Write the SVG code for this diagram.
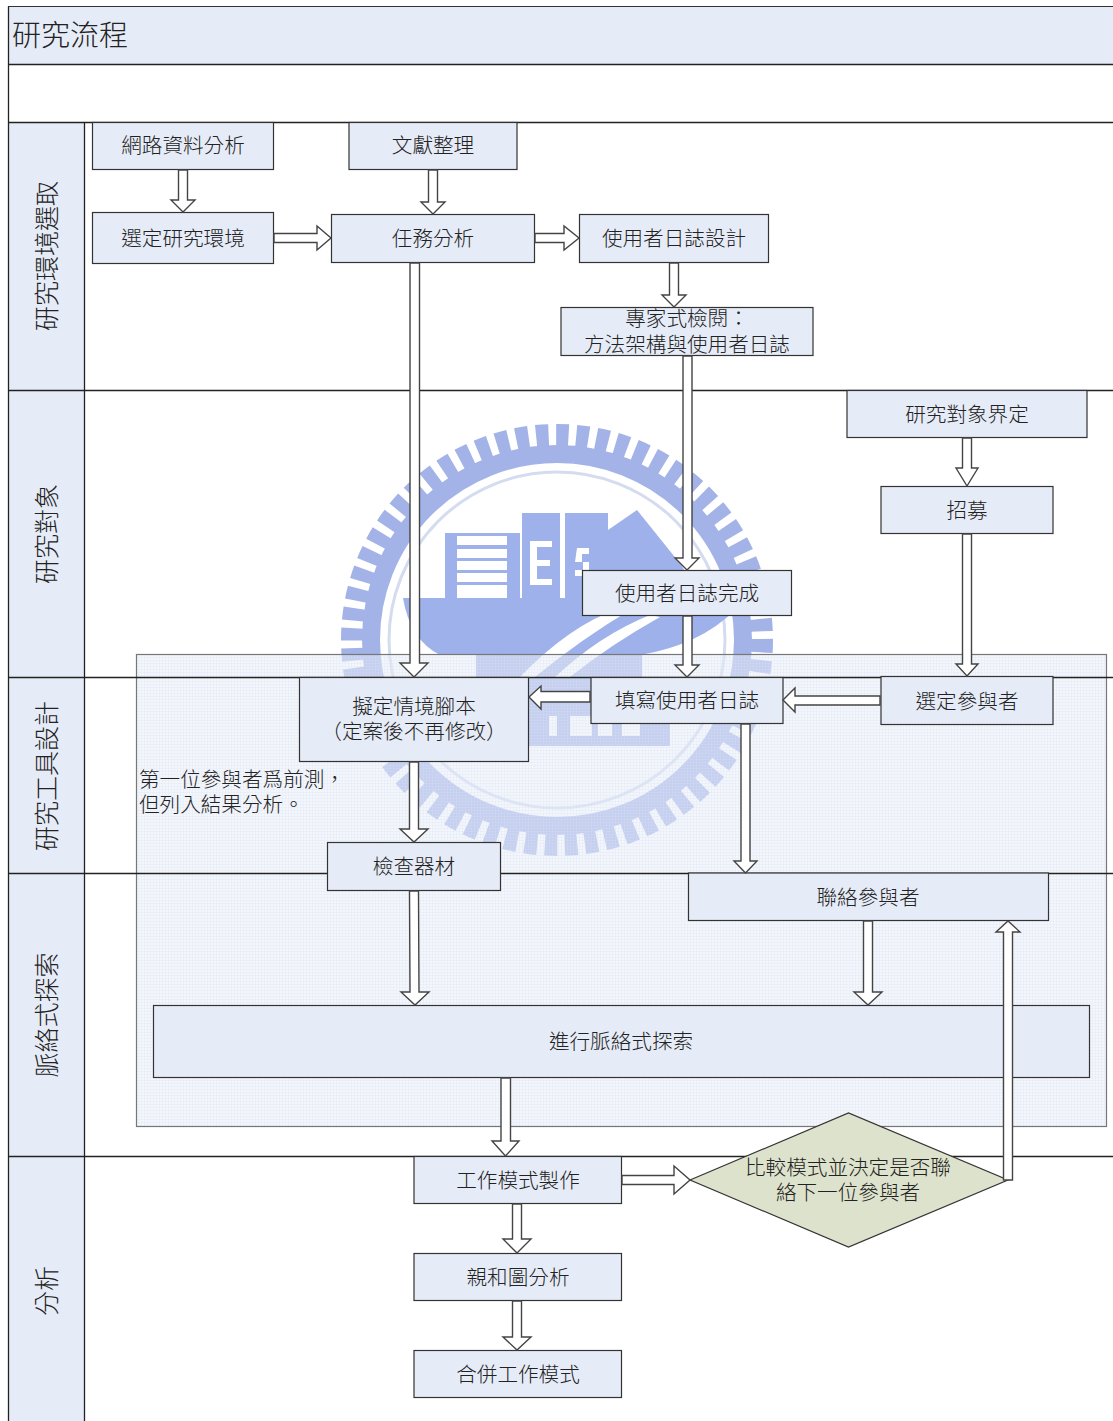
<svg xmlns="http://www.w3.org/2000/svg" width="1113" height="1421" viewBox="0 0 1113 1421">
<defs>
<pattern id="dots" width="3" height="3" patternUnits="userSpaceOnUse"><rect width="3" height="3" fill="#e8edf8" fill-opacity="0.5"/><rect width="1" height="3" fill="#d8e0f3" fill-opacity="0.25"/><rect width="3" height="1" fill="#d8e0f3" fill-opacity="0.25"/></pattern>
</defs>
<style>
text{font-family:"Liberation Serif","Noto Sans CJK TC",serif;font-size:20.6px;fill:#222;text-anchor:middle;font-weight:300}
.box{fill:#e6ecf7;stroke:#333;stroke-width:1.2}
.head{fill:#e6ecf7;stroke:#333;stroke-width:1}
.line{stroke:#222;stroke-width:1.3;fill:none}
.arr{fill:#fff;stroke:#444;stroke-width:1.4}
.wm{fill:#9fb1ea}
.wp{fill:#fff}
</style>
<rect width="1113" height="1421" fill="#fff"/>
<g id="watermark">
<circle cx="557" cy="640" r="205" fill="none" stroke="#a3b3e8" stroke-width="22" stroke-dasharray="12.500 7.600"/>
<circle cx="557" cy="640" r="186" fill="none" stroke="#a3b3e8" stroke-width="18"/>
<circle cx="557" cy="640" r="168" fill="none" stroke="#d5dcf0" stroke-width="3"/>
<rect class="wm" x="445" y="533" width="75" height="66"/>
<g class="wp"><rect x="457" y="536" width="50" height="9"/><rect x="457" y="549" width="50" height="9"/><rect x="457" y="561" width="50" height="9"/><rect x="457" y="573" width="50" height="9"/><rect x="457" y="585" width="50" height="13"/></g>
<rect class="wm" x="522" y="513" width="38" height="86"/>
<rect class="wm" x="565" y="513" width="43" height="86"/>
<path class="wm" d="M608 530L637 510L682 566L700 600L608 600Z"/>
<g class="wp"><rect x="530" y="541" width="7" height="44"/><rect x="530" y="541" width="22" height="6"/><rect x="530" y="560" width="20" height="6"/><rect x="530" y="579" width="22" height="6"/><path d="M577 548h12v6h-7v8h7v14h-14v-6h8v-8h-8z"/></g>
<path class="wm" d="M403 598H700L735 610Q700 645 640 655H476V655H440Q410 640 403 598Z"/>
<rect x="476" y="654" width="166" height="30" fill="#a3b3e8"/>
<path d="M520 677Q570 625 620 608L630 610Q580 640 535 677Z" fill="#fff"/>
<path d="M555 677Q600 635 650 615L660 617Q610 645 570 677Z" fill="#fff"/>
<rect x="528" y="680" width="142" height="66" fill="#a3b3e8"/>
<g class="wp"><rect x="549" y="716" width="8" height="20"/><rect x="570" y="716" width="22" height="20"/><rect x="598" y="716" width="14" height="20"/><rect x="622" y="716" width="18" height="20"/></g>
</g>
<rect id="panel" x="136.500" y="654.500" width="970" height="472" fill="url(#dots)" stroke="#777" stroke-width="1.200"/>
<g id="swimlanes">
<rect class="head" x="8.500" y="6.500" width="1110" height="58"/>
<rect class="head" x="8.500" y="122.500" width="76" height="1300"/>
<path class="line" d="M8.500 6.500V1421M8 64.500H1113M8 122.500H1113M8 390.500H1113M8 677.500H1113M8 873.500H1113M8 1156.500H1113M84.500 122V1421"/>
<text x="12" y="46" style="font-size:29px;text-anchor:start">研究流程</text>
<text transform="translate(56 256) rotate(-90)" style="font-size:25px">研究環境選取</text>
<text transform="translate(56 534) rotate(-90)" style="font-size:25px">研究對象</text>
<text transform="translate(56 776) rotate(-90)" style="font-size:25px">研究工具設計</text>
<text transform="translate(56 1015) rotate(-90)" style="font-size:25px">脈絡式探索</text>
<text transform="translate(56 1291) rotate(-90)" style="font-size:25px">分析</text>
</g>
<g id="n1"><rect class="box" x="92.500" y="122.500" width="181" height="47"/><text x="183" y="153">網路資料分析</text></g>
<g id="n2"><rect class="box" x="349" y="122.500" width="168" height="47"/><text x="433" y="153">文獻整理</text></g>
<g id="n3"><rect class="box" x="92.500" y="212.500" width="181" height="51"/><text x="183" y="246">選定研究環境</text></g>
<g id="n4"><rect class="box" x="331.500" y="214.500" width="203" height="48"/><text x="433" y="246">任務分析</text></g>
<g id="n5"><rect class="box" x="579.500" y="214.500" width="189" height="48"/><text x="674" y="246">使用者日誌設計</text></g>
<g id="n6"><rect class="box" x="561" y="307.500" width="252" height="48"/><text x="687" y="326">專家式檢閱：</text><text x="687" y="352">方法架構與使用者日誌</text></g>
<g id="n7"><rect class="box" x="847" y="390.500" width="240" height="47"/><text x="967" y="422">研究對象界定</text></g>
<g id="n8"><rect class="box" x="881" y="486.500" width="172" height="47"/><text x="967" y="518">招募</text></g>
<g id="n9"><rect class="box" x="582.500" y="570.500" width="209" height="45"/><text x="687" y="601">使用者日誌完成</text></g>
<g id="n10"><rect class="box" x="299.500" y="677.500" width="229" height="84"/><text x="414" y="714">擬定情境腳本</text><text x="414" y="739">（定案後不再修改）</text></g>
<g id="n11"><rect class="box" x="591" y="677.500" width="192" height="46"/><text x="687" y="708">填寫使用者日誌</text></g>
<g id="n12"><rect class="box" x="881" y="676.500" width="172" height="48"/><text x="967" y="709">選定參與者</text></g>
<g id="n13"><rect class="box" x="327.500" y="842.500" width="173" height="48"/><text x="414" y="874">檢查器材</text></g>
<g id="n14"><rect class="box" x="688.500" y="873" width="360" height="47.500"/><text x="868" y="905">聯絡參與者</text></g>
<g id="n15"><rect class="box" x="153.500" y="1005.500" width="936" height="72"/><text x="621" y="1049">進行脈絡式探索</text></g>
<g id="n16"><rect class="box" x="414" y="1156.500" width="207.500" height="47"/><text x="518" y="1188">工作模式製作</text></g>
<g id="n17"><polygon points="690,1180 848.500,1113 1008,1180 848.500,1247" fill="#dde2cc" stroke="#333" stroke-width="1.200"/><text x="848" y="1175">比較模式並決定是否聯</text><text x="848" y="1200">絡下一位參與者</text></g>
<g id="n18"><rect class="box" x="414" y="1253.500" width="207.500" height="47"/><text x="518" y="1285">親和圖分析</text></g>
<g id="n19"><rect class="box" x="414" y="1350.500" width="207.500" height="47"/><text x="518" y="1382">合併工作模式</text></g>
<g id="note"><text x="139" y="787" style="text-anchor:start">第一位參與者爲前測，</text><text x="139" y="812" style="text-anchor:start">但列入結果分析。</text></g>
<g id="connectors">
<polygon class="arr" points="178.500,170 187.500,170 187.500,200 195,200 183,212 171,200 178.500,200"/>
<polygon class="arr" points="428.500,170 437.500,170 437.500,202 445,202 433,214 421,202 428.500,202"/>
<polygon class="arr" points="274,233.500 317,233.500 317,226 331,238 317,250 317,242.500 274,242.500"/>
<polygon class="arr" points="535,233.500 564,233.500 564,226 579,238 564,250 564,242.500 535,242.500"/>
<polygon class="arr" points="669.500,263 678.500,263 678.500,295 686,295 674,307 662,295 669.500,295"/>
<polygon class="arr" points="410,263 419.500,263 419.500,663 428,663 414,677 400,663 410,663"/>
<polygon class="arr" points="683,356 692,356 692,558 699,558 687,570 675,558 683,558"/>
<polygon class="arr" points="683,616 692,616 692,665 699,665 687,677 675,665 683,665"/>
<polygon class="arr" points="962.500,438 971.500,438 971.500,468 978,468 967,486 956,468 962.500,468"/>
<polygon class="arr" points="962.500,534 971.500,534 971.500,664 978,664 967,676 956,664 962.500,664"/>
<polygon class="arr" points="590,691.500 541,691.500 541,686 529,697 541,709 541,702 590,702"/>
<polygon class="arr" points="880,696 795,696 795,688 783,700 795,712 795,705 880,705"/>
<polygon class="arr" points="741,724 750,724 750,861 757,861 745.500,873 734,861 741,861"/>
<polygon class="arr" points="409.500,762 418.500,762 418.500,829 428,829 414,842 400,829 409.500,829"/>
<polygon class="arr" points="409.500,891 418.500,891 419,992 429,992 415,1005 401,992 410,992"/>
<polygon class="arr" points="863.500,921 872.500,921 872.500,992 882,992 868,1005 854,992 863.500,992"/>
<polygon class="arr" points="501,1078 510.500,1078 510.500,1141 519,1141 505.500,1156 492,1141 501,1141"/>
<polygon class="arr" points="622,1175.500 674,1175.500 674,1166 690,1180 674,1194 674,1184.500 622,1184.500"/>
<polygon class="arr" points="512.500,1204 521.500,1204 521.500,1239 531,1239 517,1253 503,1239 512.500,1239"/>
<polygon class="arr" points="512.500,1301 521.500,1301 521.500,1337 531,1337 517,1350 503,1337 512.500,1337"/>
<polygon class="arr" points="1003.500,1180 1003.500,932 996,932 1008,921 1020,932 1012.500,932 1012.500,1180"/>
</g>
</svg>
